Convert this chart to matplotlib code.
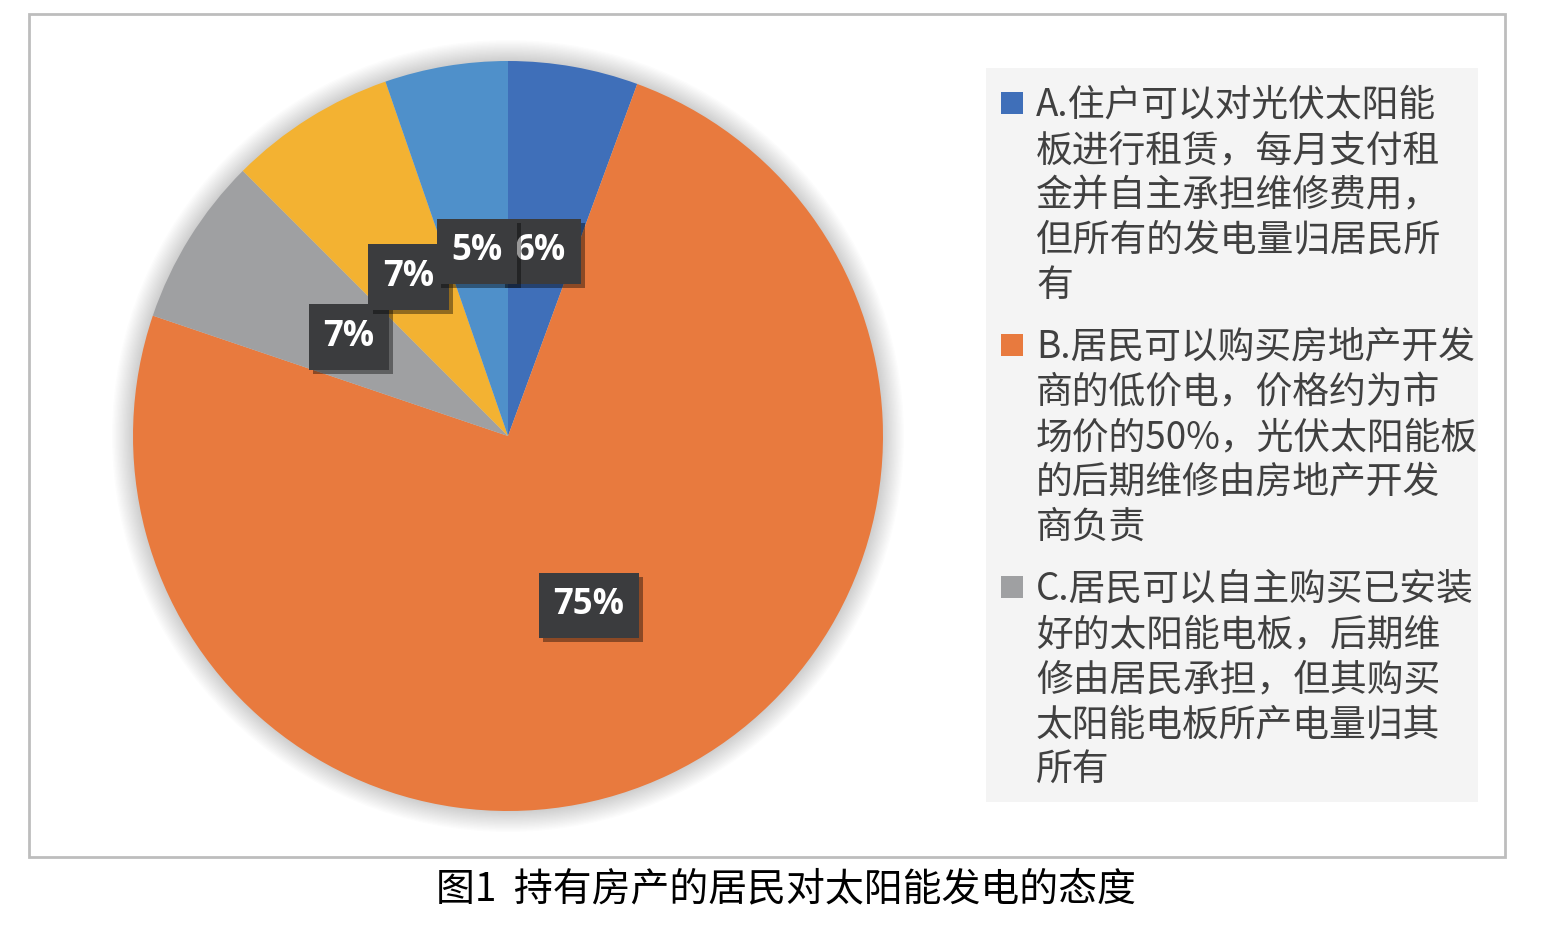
import matplotlib.pyplot as plt
import matplotlib.patheffects as pe
from matplotlib.patches import Rectangle, Circle

# share of residents per option (A..E, clockwise from the top)
shares = [5.6, 74.6, 7.3, 7.2, 5.3]
colors = ['#3F6FB9', '#E87A3E', '#9FA0A2', '#F3B232', '#4F90CA']

# only the first three options show in the legend
legend_labels = [
    "A.住户可以对光伏太阳能\n板进行租赁，每月支付租\n金并自主承担维修费用，\n但所有的发电量归居民所\n有",
    "B.居民可以购买房地产开发\n商的低价电，价格约为市\n场价的50%，光伏太阳能板\n的后期维修由房地产开发\n商负责",
    "C.居民可以自主购买已安装\n好的太阳能电板，后期维\n修由居民承担，但其购买\n太阳能电板所产电量归其\n所有",
]
caption = "图1  持有房产的居民对太阳能发电的态度"

W, H = 1544, 934
plt.rcParams['font.family'] = ['Noto Sans CJK SC', 'DejaVu Sans']

fig = plt.figure(figsize=(W / 100, H / 100), dpi=100)
fig.patch.set_facecolor('white')


def fx(px):
    return px / W


def fy(py):
    return 1 - py / H


# outer frame
fig.add_artist(Rectangle((fx(29), fy(857)), fx(1505) - fx(29), fy(14) - fy(857),
                         transform=fig.transFigure, fill=False,
                         edgecolor='#BDBDBD', lw=2))

# legend panel
fig.add_artist(Rectangle((fx(986), fy(802)), fx(1478) - fx(986), fy(68) - fy(802),
                         transform=fig.transFigure, facecolor='#F4F4F4',
                         edgecolor='none', zorder=1))

# pie
ax = fig.add_axes([fx(133), fy(811), fx(883) - fx(133), fy(61) - fy(811)])

# soft shadow behind the pie
for i in range(16):
    r = 1.0 + 0.0035 * (i + 1)
    ax.add_patch(Circle((0, 0), r, color='black', alpha=0.012, lw=0, zorder=0,
                        clip_on=False))

wedges, texts, autotexts = ax.pie(
    shares, colors=colors, startangle=90, counterclock=False,
    autopct='%.0f%%', pctdistance=0.5, radius=1,
    wedgeprops=dict(linewidth=0), frame=False)

# pie() resets the limits, so set them afterwards
ax.set_xlim(-1, 1)
ax.set_ylim(-1, 1)
ax.axis('off')

for wd in wedges:
    wd.set_zorder(2)

for t in autotexts:
    t.set_color('white')
    t.set_fontfamily(['Open Sans', 'DejaVu Sans'])
    t.set_fontweight('bold')
    t.set_fontsize(25)
    t.set_zorder(5)
    t.set_bbox(dict(boxstyle='square,pad=0.42', facecolor='#3B3C3E',
                    edgecolor='none'))
    t.get_bbox_patch().set_path_effects(
        [pe.withSimplePatchShadow(offset=(3, -3), shadow_rgbFace='black', alpha=0.4)])

# legend drawn by hand so the marker sits on the first line
for i, (lab, col) in enumerate(zip(legend_labels, colors)):
    y_line = 103 + i * 242
    fig.add_artist(Rectangle((fx(1001), fy(y_line + 11)), fx(22), 22 / H,
                             transform=fig.transFigure, facecolor=col,
                             edgecolor='none', zorder=3))
    fig.text(fx(1036), fy(y_line - 17), lab, ha='left', va='top',
             fontsize=26.5, color='#404040', linespacing=1.2, zorder=3)

fig.text(fx(786), fy(889), caption, ha='center', va='center',
         fontsize=28, color='black')

fig.savefig('out.png', dpi=100)
